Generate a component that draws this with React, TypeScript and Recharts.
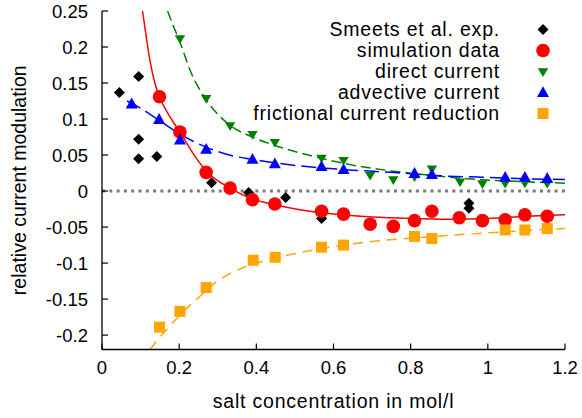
import React from 'react';
import { ComposedChart, Line, Scatter, XAxis, YAxis, ReferenceLine, Legend, Label } from 'recharts';

const FONT = '"Liberation Sans", Arial, Helvetica, sans-serif';

// axis ticks
const xTicks = [0, 0.2, 0.4, 0.6, 0.8, 1, 1.2];
const yTicks = [-0.2, -0.15, -0.1, -0.05, 0, 0.05, 0.1, 0.15, 0.2, 0.25];

// Smeets et al. experiment
const smeetsConc = [0.045, 0.095, 0.095, 0.095, 0.142, 0.284, 0.38, 0.476, 0.569, 0.951, 0.951];
const smeetsMod = [0.137, 0.159, 0.072, 0.045, 0.048, 0.0115, -0.002, -0.009, -0.038, -0.017, -0.024];

// simulation data
const simConc = [0.149, 0.202, 0.27, 0.332, 0.39, 0.448, 0.569, 0.626, 0.695, 0.755, 0.81, 0.855, 0.926, 0.986, 1.045, 1.096, 1.154];
const simMod = [0.131, 0.082, 0.026, 0.004, -0.012, -0.018, -0.028, -0.032, -0.046, -0.049, -0.041, -0.028, -0.037, -0.041, -0.04, -0.033, -0.035];

// direct current
const directConc = [0.202, 0.27, 0.332, 0.39, 0.448, 0.569, 0.626, 0.695, 0.755, 0.81, 0.855, 0.928, 0.986, 1.045, 1.096, 1.154];
const directMod = [0.212, 0.129, 0.091, 0.079, 0.068, 0.046, 0.043, 0.022, 0.016, 0.02, 0.031, 0.013, 0.0105, 0.011, 0.0115, 0.011];

// advective current
const advConc = [0.077, 0.148, 0.202, 0.27, 0.39, 0.448, 0.569, 0.626, 0.81, 0.855, 1.045, 1.096, 1.154];
const advMod = [0.121, 0.0995, 0.071, 0.058, 0.044, 0.038, 0.034, 0.03, 0.0245, 0.023, 0.019, 0.019, 0.0176];

// frictional current reduction
const fricConc = [0.149, 0.202, 0.27, 0.392, 0.449, 0.569, 0.626, 0.81, 0.855, 1.045, 1.096, 1.154];
const fricMod = [-0.189, -0.167, -0.134, -0.096, -0.092, -0.078, -0.075, -0.063, -0.066, -0.054, -0.054, -0.052];

// fitted curves
const simFitX = [0.105, 0.115, 0.124, 0.137, 0.149, 0.175, 0.202, 0.235, 0.27, 0.332, 0.39, 0.448, 0.513, 0.6, 0.7, 0.8, 0.9, 1.0, 1.1, 1.2];
const simFitY = [0.25, 0.213, 0.182, 0.15, 0.131, 0.104, 0.082, 0.053, 0.028, 0.004, -0.011, -0.019, -0.026, -0.032, -0.036, -0.038, -0.039, -0.038, -0.035, -0.033];
const directFitX = [0.17, 0.185, 0.202, 0.228, 0.27, 0.33, 0.39, 0.45, 0.55, 0.65, 0.75, 0.85, 0.95, 1.05, 1.2];
const directFitY = [0.25, 0.229, 0.207, 0.168, 0.127, 0.092, 0.075, 0.063, 0.048, 0.036, 0.028, 0.022, 0.017, 0.014, 0.011];
const advFitX = [0.065, 0.1, 0.148, 0.202, 0.27, 0.33, 0.39, 0.45, 0.55, 0.65, 0.75, 0.885, 1.0, 1.1, 1.2];
const advFitY = [0.125, 0.115, 0.098, 0.079, 0.061, 0.05, 0.044, 0.039, 0.033, 0.029, 0.026, 0.021, 0.019, 0.017, 0.016];
const fricFitX = [0.124, 0.15, 0.181, 0.215, 0.25, 0.297, 0.358, 0.42, 0.5, 0.6, 0.7, 0.85, 1.0, 1.2];
const fricFitY = [-0.22, -0.203, -0.184, -0.165, -0.148, -0.126, -0.108, -0.097, -0.087, -0.077, -0.07, -0.0635, -0.058, -0.052];

const seriesNames = ['Smeets et al. exp.', 'simulation data', 'direct current', 'advective current', 'frictional current reduction'];

const pts = (xs: number[], ys: number[]) => xs.map((x, i) => ({ x, y: ys[i] }));

const RED = '#ff0000';
const GREEN = '#008000';
const BLUE = '#0000ff';
const ORANGE = '#ffa500';

const TICK_LEN = 6;
const X_MARGIN = 11;
const Y_MARGIN = 14;

// marker shapes
const diamond = (cx: number, cy: number) => (
  <polygon points={`${cx - 5.5},${cy} ${cx},${cy - 5.5} ${cx + 5.5},${cy} ${cx},${cy + 5.5}`} fill="#000" />
);
const circle = (cx: number, cy: number) => <circle cx={cx} cy={cy} r={6.8} fill={RED} />;
const triDown = (cx: number, cy: number) => (
  <polygon points={`${cx - 5.2},${cy - 3.2} ${cx + 5.2},${cy - 3.2} ${cx},${cy + 5.4}`} fill={GREEN} />
);
const triUp = (cx: number, cy: number) => (
  <polygon points={`${cx - 6},${cy + 4.5} ${cx + 6},${cy + 4.5} ${cx},${cy - 6.3}`} fill={BLUE} />
);
const square = (cx: number, cy: number) => <rect x={cx - 5.5} y={cy - 5.5} width={11} height={11} fill={ORANGE} />;

const markers = [diamond, circle, triDown, triUp, square];

const fmt = (v: number) => String(v);

const BottomTick = ({ x, y, payload }: any) => (
  <g>
    <line x1={x} x2={x} y1={y - X_MARGIN} y2={y - X_MARGIN - TICK_LEN} stroke="#000" strokeWidth={1.2} />
    <text x={x} y={y} dy="0.71em" textAnchor="middle" fontSize={18.5} fontFamily={FONT} fill="#000">
      {fmt(payload.value)}
    </text>
  </g>
);

const TopTick = ({ x, y }: any) => (
  <line x1={x} x2={x} y1={y} y2={y + TICK_LEN} stroke="#000" strokeWidth={1.2} />
);

const LeftTick = ({ x, y, payload }: any) => (
  <g>
    <line x1={x + Y_MARGIN} x2={x + Y_MARGIN + TICK_LEN} y1={y} y2={y} stroke="#000" strokeWidth={1.2} />
    <text x={x} y={y} dy="0.36em" textAnchor="end" fontSize={18.5} fontFamily={FONT} fill="#000">
      {fmt(payload.value)}
    </text>
  </g>
);

const RightTick = ({ x, y }: any) => (
  <line x1={x - TICK_LEN} x2={x} y1={y} y2={y} stroke="#000" strokeWidth={1.2} />
);

const renderLegend = () => (
  <div style={{ fontFamily: FONT }}>
    {seriesNames.map((name, i) => (
      <div key={name} style={{ display: 'flex', alignItems: 'center', height: 21 }}>
        <span style={{ width: 300, textAlign: 'right', fontSize: 19.5, letterSpacing: 0.8, lineHeight: '21px', color: '#000' }}>
          {name}
        </span>
        <svg width={60} height={21} style={{ display: 'block' }}>
          {markers[i](43, 10.5)}
        </svg>
      </div>
    ))}
  </div>
);

export default function App() {
  return (
    <div style={{ position: 'absolute', left: 0, top: 0 }}>
      <ComposedChart width={582} height={418} margin={{ top: 11, right: 17, bottom: 0, left: 0 }}>
        <XAxis
          dataKey="x"
          type="number"
          domain={[0, 1.2]}
          ticks={xTicks}
          allowDataOverflow
          height={68.5}
          tickSize={0}
          tickMargin={X_MARGIN}
          tick={<BottomTick />}
          axisLine={{ stroke: '#000', strokeWidth: 1.3 }}
        >
          <Label
            value="salt concentration in mol/l"
            position="insideBottom"
            offset={10}
            style={{ fontSize: 19.5, fontFamily: FONT, fill: '#000', letterSpacing: 0.8 }}
          />
        </XAxis>
        <XAxis
          xAxisId="top"
          orientation="top"
          dataKey="x"
          type="number"
          domain={[0, 1.2]}
          ticks={xTicks}
          allowDataOverflow
          height={0}
          tickSize={0}
          tickMargin={0}
          tick={<TopTick />}
          axisLine={{ stroke: '#000', strokeWidth: 1.3 }}
        />
        <YAxis
          type="number"
          domain={[-0.22, 0.25]}
          ticks={yTicks}
          allowDataOverflow
          width={102}
          tickSize={0}
          tickMargin={Y_MARGIN}
          tick={<LeftTick />}
          axisLine={{ stroke: '#000', strokeWidth: 1.3 }}
        >
          <Label
            value="relative current modulation"
            angle={-90}
            position="insideLeft"
            offset={19}
            style={{ fontSize: 19.5, fontFamily: FONT, fill: '#000', textAnchor: 'middle' }}
          />
        </YAxis>
        <YAxis
          yAxisId="right"
          orientation="right"
          type="number"
          domain={[-0.22, 0.25]}
          ticks={yTicks}
          allowDataOverflow
          width={0}
          tickSize={0}
          tickMargin={0}
          tick={<RightTick />}
          axisLine={{ stroke: '#000', strokeWidth: 1.3 }}
        />
        <ReferenceLine y={0} stroke="#7a7a7a" strokeWidth={3} strokeDasharray="3 4.3" />
        <Legend
          layout="vertical"
          align="center"
          verticalAlign="middle"
          content={renderLegend}
          wrapperStyle={{ left: 200, top: 19, width: 360 }}
        />
        <Line data={pts(simFitX, simFitY)} dataKey="y" type="monotone" stroke={RED} strokeWidth={1.5} dot={false} activeDot={false} isAnimationActive={false} legendType="none" />
        <Line data={pts(directFitX, directFitY)} dataKey="y" type="monotone" stroke={GREEN} strokeWidth={1.5} strokeDasharray="10 5" dot={false} activeDot={false} isAnimationActive={false} legendType="none" />
        <Line data={pts(advFitX, advFitY)} dataKey="y" type="monotone" stroke={BLUE} strokeWidth={1.5} strokeDasharray="15 6" dot={false} activeDot={false} isAnimationActive={false} legendType="none" />
        <Line data={pts(fricFitX, fricFitY)} dataKey="y" type="monotone" stroke={ORANGE} strokeWidth={1.5} strokeDasharray="10 7" dot={false} activeDot={false} isAnimationActive={false} legendType="none" />
        <Scatter name={seriesNames[0]} data={pts(smeetsConc, smeetsMod)} dataKey="y" shape={(p: any) => diamond(p.cx, p.cy)} isAnimationActive={false} />
        <Scatter name={seriesNames[1]} data={pts(simConc, simMod)} dataKey="y" shape={(p: any) => circle(p.cx, p.cy)} isAnimationActive={false} />
        <Scatter name={seriesNames[2]} data={pts(directConc, directMod)} dataKey="y" shape={(p: any) => triDown(p.cx, p.cy)} isAnimationActive={false} />
        <Scatter name={seriesNames[3]} data={pts(advConc, advMod)} dataKey="y" shape={(p: any) => triUp(p.cx, p.cy)} isAnimationActive={false} />
        <Scatter name={seriesNames[4]} data={pts(fricConc, fricMod)} dataKey="y" shape={(p: any) => square(p.cx, p.cy)} isAnimationActive={false} />
      </ComposedChart>
    </div>
  );
}
